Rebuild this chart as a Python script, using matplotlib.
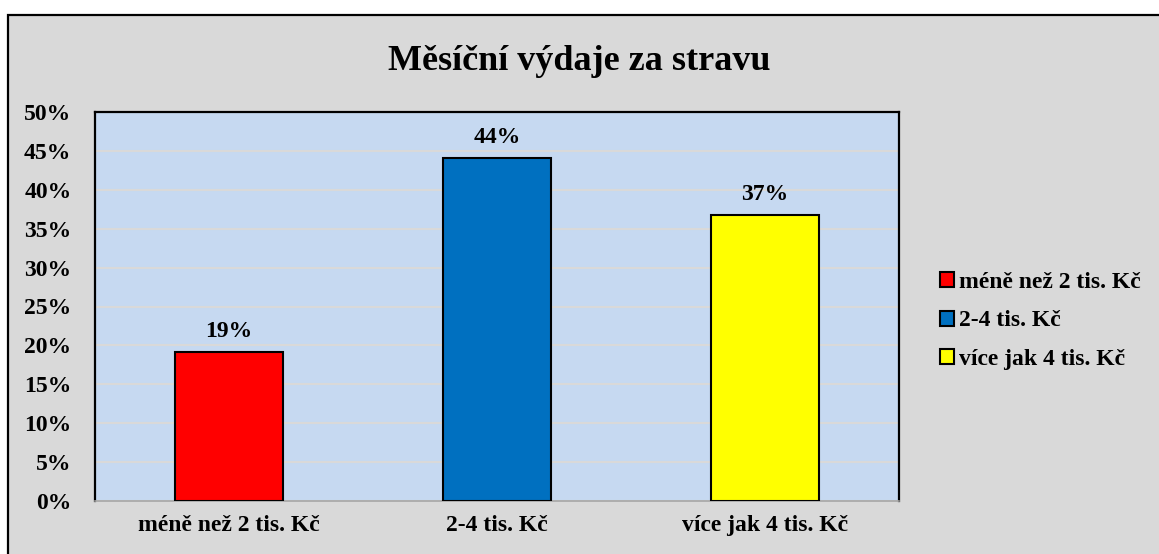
import matplotlib.pyplot as plt
from matplotlib.patches import Rectangle

# -----------------------------
# Data
# -----------------------------
categories = ["méně než 2 tis. Kč", "2-4 tis. Kč", "více jak 4 tis. Kč"]
values = [19.1, 44.1, 36.7]
value_labels = ["19%", "44%", "37%"]
colors = ["#ff0000", "#0070c0", "#ffff00"]
y_ticks = [0, 5, 10, 15, 20, 25, 30, 35, 40, 45, 50]

plt.rcParams["font.family"] = ["Liberation Serif", "DejaVu Serif"]
plt.rcParams["font.weight"] = "bold"

# -----------------------------
# Figure and background frame
# -----------------------------
fig = plt.figure(figsize=(11.59, 5.54), dpi=100)
fig.patch.set_facecolor("white")

frame = Rectangle(
    (8 / 1159, -0.05), 1.1, 1.05 - 15 / 554,
    transform=fig.transFigure, facecolor="#d9d9d9",
    edgecolor="black", linewidth=1.6, clip_on=False, zorder=-10,
)
fig.patches.append(frame)

ax = fig.add_axes([95 / 1159, 1 - 501 / 554, (899 - 95) / 1159, (501 - 112) / 554])
ax.set_zorder(1)
ax.set_facecolor("#c6d9f1")

x = range(len(categories))
bars = ax.bar(x, values, width=0.4, color=colors, edgecolor="black",
              linewidth=1.5, zorder=3)

for bar, lab in zip(bars, value_labels):
    ax.text(bar.get_x() + bar.get_width() / 2, bar.get_height() + 1.3, lab,
            ha="center", va="bottom", fontsize=17, fontweight="bold")

ax.set_xlim(-0.5, 2.5)
ax.set_ylim(0, 50)
ax.set_yticks(y_ticks)
ax.set_yticklabels([f"{t}%" for t in y_ticks])
ax.set_xticks(list(x))
ax.set_xticklabels(categories)
ax.tick_params(axis="both", length=0, labelsize=17)
ax.tick_params(axis="y", pad=17)
ax.tick_params(axis="x", pad=10)
for lbl in ax.get_xticklabels() + ax.get_yticklabels():
    lbl.set_fontweight("bold")

ax.yaxis.grid(True, color="#d9d9d9", linewidth=1.5, zorder=1)
ax.set_axisbelow(True)

for side in ["left", "top", "right"]:
    ax.spines[side].set_color("black")
    ax.spines[side].set_linewidth(1.6)
ax.spines["bottom"].set_color("#a6a6a6")
ax.spines["bottom"].set_linewidth(1.2)

fig.text(0.5, 1 - 62 / 554, "Měsíční výdaje za stravu", ha="center",
         va="center", fontsize=26, fontweight="bold")

fig.legend(
    bars, categories,
    loc="center left", bbox_to_anchor=(919 / 1159, 1 - 321 / 554),
    frameon=False, handlelength=0.6, handleheight=0.6,
    handletextpad=0.2, labelspacing=0.75,
    prop={"weight": "bold", "size": 17},
)

fig.savefig("out.png", dpi=100)
